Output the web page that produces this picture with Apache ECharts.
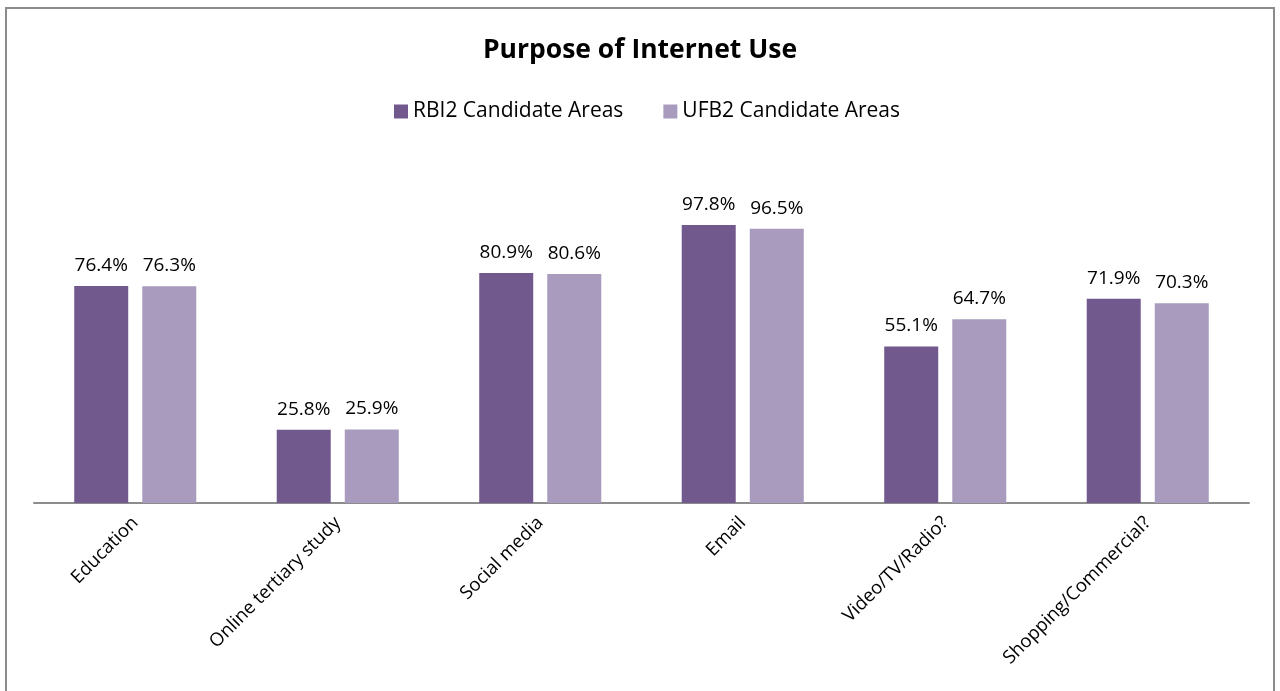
<!DOCTYPE html>
<html>
<head>
    <meta charset="utf-8">
    <title>Purpose of Internet Use</title>
    <script src="https://cdn.jsdelivr.net/npm/echarts@6/dist/echarts.min.js"></script>
    <style type="text/css">
        html, body {
            margin: 0;
            height: 100%;
            background: #fff;
        }
    </style>
</head>
<body>
<div id="main" style="width: 1280px;height:691px;"></div>
<script type="text/javascript">
    var categories = ['Education', 'Online tertiary study', 'Social media', 'Email', 'Video/TV/Radio?', 'Shopping/Commercial?'];
    var rbi2Values = [76.4, 25.8, 80.9, 97.8, 55.1, 71.9];
    var ufb2Values = [76.3, 25.9, 80.6, 96.5, 64.7, 70.3];
    var seriesNames = ['RBI2 Candidate Areas', 'UFB2 Candidate Areas'];

    var font = '"Open Sans", Lato, sans-serif';
    var myChart = echarts.init(document.getElementById('main'), null, {renderer: 'canvas'});

    function barSeries(name, data, color) {
        return {
            name: name,
            type: 'bar',
            data: data,
            barWidth: 54,
            barGap: '26%',
            itemStyle: {color: color},
            label: {
                show: true,
                position: 'top',
                distance: 11,
                color: '#000',
                fontFamily: font,
                fontSize: 19,
                formatter: function (p) { return p.value.toFixed(1) + '%'; }
            }
        };
    }

    var option = {
        backgroundColor: '#fff',
        animation: false,
        title: {
            text: 'Purpose of Internet Use',
            left: 'center',
            top: 32,
            textStyle: {fontFamily: font, fontSize: 26.5, fontWeight: 'bold', color: '#000'}
        },
        legend: {
            top: 96,
            left: 389,
            itemWidth: 14,
            itemHeight: 14,
            itemGap: 40,
            icon: 'rect',
            textStyle: {fontFamily: font, fontSize: 21, color: '#000'},
            data: seriesNames
        },
        graphic: [{
            type: 'rect',
            shape: {x: 6, y: 8, width: 1268, height: 700},
            style: {fill: 'none', stroke: '#8c8c8c', lineWidth: 2},
            silent: true
        }],
        grid: {left: 34, right: 31, top: 162, bottom: 188, containLabel: false},
        xAxis: {
            type: 'category',
            data: categories,
            axisLine: {lineStyle: {color: '#8c8c8c', width: 2}},
            axisTick: {show: false},
            axisLabel: {
                rotate: 45,
                interval: 0,
                margin: 17,
                color: '#000',
                fontFamily: font,
                fontSize: 18.5
            }
        },
        yAxis: {
            type: 'value',
            min: 0,
            max: 120,
            interval: 20,
            show: false,
            splitLine: {show: false}
        },
        series: [
            barSeries(seriesNames[0], rbi2Values, '#71598e'),
            barSeries(seriesNames[1], ufb2Values, '#a99bbe')
        ]
    };

    myChart.setOption(option);
</script>
</body>
</html>
